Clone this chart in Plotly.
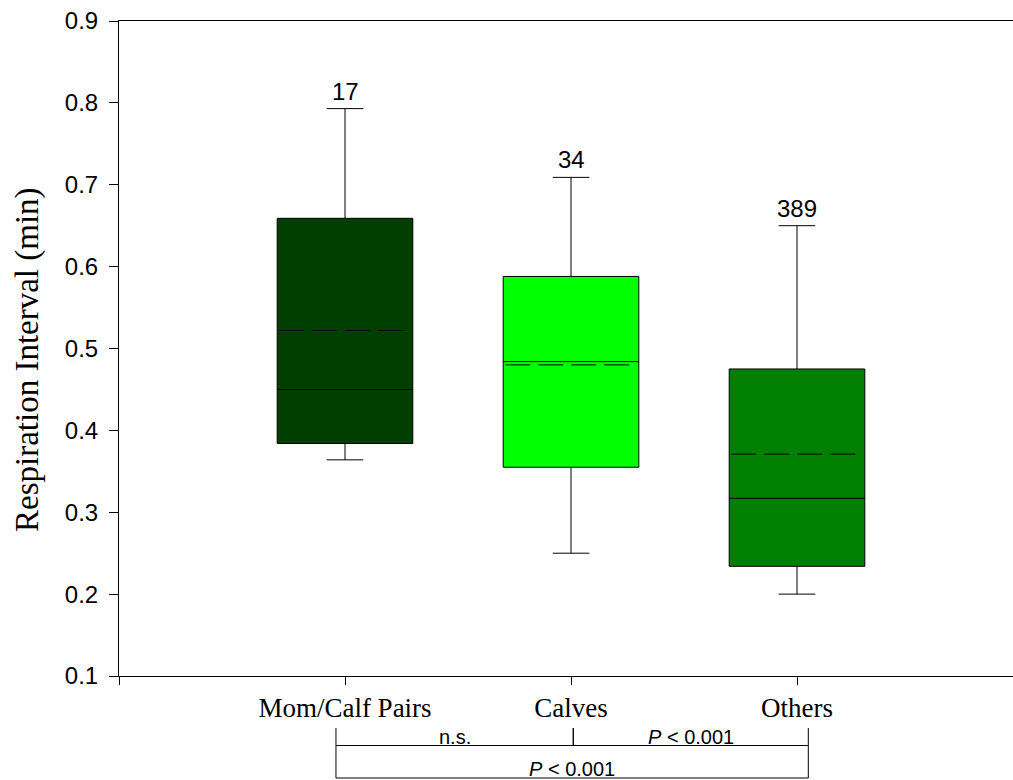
import plotly.graph_objects as go

categories = ["Mom/Calf Pairs", "Calves", "Others"]
positions = [1, 2, 3]
q1 = [0.384, 0.355, 0.234]
median = [0.450, 0.484, 0.317]
q3 = [0.659, 0.588, 0.475]
mean = [0.522, 0.480, 0.371]
lower_fence = [0.364, 0.250, 0.200]
upper_fence = [0.793, 0.709, 0.650]
counts = ["17", "34", "389"]
colors = ["#003F00", "#00FF00", "#007F00"]

# significance comparisons: (from position, to position, label, row)
comparisons = [
    (0.96, 2.01, "n.s.", 1),
    (2.01, 3.05, "<i>P</i> < 0.001", 1),
    (0.96, 3.05, "<i>P</i> < 0.001", 2),
]

BOX_W = 0.6
W, H = 1013, 780
ML, MR, MT, MB = 119, 0, 21, 104
plot_h = H - MT - MB
plot_w = W - ML - MR


def py(p):
    """pixel row -> paper y"""
    return (H - MB - p) / plot_h


def px(p):
    return (p - ML) / plot_w


fig = go.Figure()
for i in range(3):
    fig.add_trace(go.Box(
        x=[positions[i]],
        q1=[q1[i]], median=[median[i]], q3=[q3[i]],
        lowerfence=[lower_fence[i]], upperfence=[upper_fence[i]],
        boxpoints=False,
        width=BOX_W,
        whiskerwidth=0.27,
        fillcolor=colors[i],
        line=dict(color="black", width=1),
        showlegend=False,
        hoverinfo="skip",
    ))
    # mean line (long dashes)
    fig.add_trace(go.Scatter(
        x=[positions[i] - BOX_W / 2 * 0.97, positions[i] + BOX_W / 2 * 0.97],
        y=[mean[i], mean[i]],
        mode="lines",
        line=dict(color="black", width=1, dash="25px,8px"),
        showlegend=False, hoverinfo="skip",
    ))
    fig.add_annotation(
        x=positions[i], y=upper_fence[i], xref="x", yref="y",
        text=counts[i], showarrow=False, yanchor="bottom", yshift=2,
        font=dict(family="Liberation Sans, Arial", size=24, color="black"),
    )

shapes = []
row_top = {1: py(728), 2: py(745.5)}
row_bot = {1: py(745.5), 2: py(778)}
for x0, x1, label, row in comparisons:
    t, b = row_top[row], row_bot[row]
    shapes.append(dict(type="line", xref="x", yref="paper", x0=x0, x1=x0, y0=t, y1=b,
                       line=dict(color="black", width=1)))
    shapes.append(dict(type="line", xref="x", yref="paper", x0=x1, x1=x1, y0=t, y1=b,
                       line=dict(color="black", width=1)))
    shapes.append(dict(type="line", xref="x", yref="paper", x0=x0, x1=x1, y0=b, y1=b,
                       line=dict(color="black", width=1)))
    fig.add_annotation(
        x=(x0 + x1) / 2, y=b, xref="x", yref="paper", text=label, showarrow=False,
        yanchor="bottom", yshift=-4,
        font=dict(family="Liberation Sans, Arial", size=20, color="black"),
    )

fig.add_annotation(
    x=px(27), y=py(360), xref="paper", yref="paper",
    text="Respiration Interval (min)", textangle=-90, showarrow=False,
    xanchor="center", yanchor="middle",
    font=dict(family="Liberation Serif, Times New Roman", size=33, color="black"),
)

fig.update_layout(
    width=W, height=H,
    margin=dict(l=ML, r=MR, t=MT, b=MB),
    plot_bgcolor="white", paper_bgcolor="white",
    shapes=shapes,
    showlegend=False,
    xaxis=dict(
        range=[0, (W - ML) / 226], tickvals=[0] + positions, ticktext=[""] + categories,
        ticks="outside", ticklen=8, tickcolor="black", showline=True, linecolor="black",
        linewidth=1, mirror=True, showgrid=False, zeroline=False,
        tickfont=dict(family="Liberation Serif, Times New Roman", size=27, color="black"),
    ),
    yaxis=dict(
        range=[0.1, 0.9], dtick=0.1, tick0=0.1, tickformat=".1f",
        ticks="outside", ticklen=9, tickcolor="black", showline=True, linecolor="black",
        linewidth=1, showgrid=False, zeroline=False, ticklabelstandoff=6,
        tickfont=dict(family="Liberation Sans, Arial", size=24, color="black"),
    ),
)

fig.write_html("out.html", config={"displayModeBar": False})

# remove the browser's default page margin so the figure sits at the top-left corner
with open("out.html", encoding="utf-8") as f:
    html = f.read()
html = html.replace("<head>", "<head><style>html,body{margin:0;padding:0;overflow:hidden;}</style>", 1)
with open("out.html", "w", encoding="utf-8") as f:
    f.write(html)
